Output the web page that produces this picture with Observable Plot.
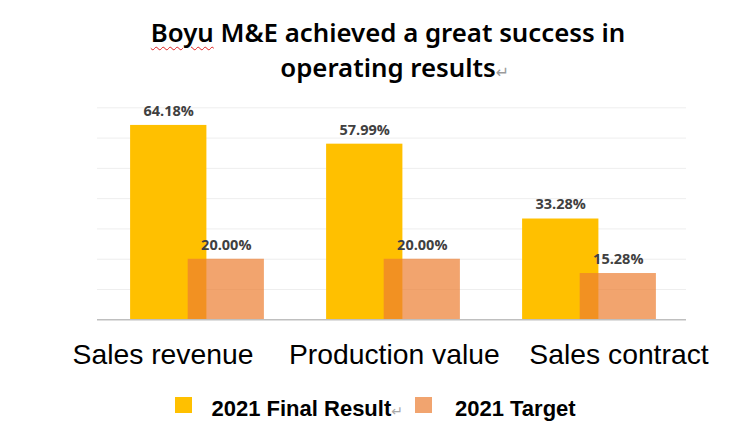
<!DOCTYPE html>
<html><head><meta charset="utf-8">
<script src="https://cdn.jsdelivr.net/npm/d3@7"></script>
<script src="https://cdn.jsdelivr.net/npm/@observablehq/plot@0.6"></script>
<style>
html,body{margin:0;padding:0;background:#fff;}
body{width:754px;height:430px;overflow:hidden;position:relative;}
.tl{position:absolute;left:0;width:776px;text-align:center;font-family:"Noto Sans",sans-serif;font-weight:600;font-size:25.8px;line-height:25.8px;color:#000;white-space:nowrap;}
.ret{position:absolute;font-family:"DejaVu Sans",sans-serif;font-weight:400;color:#9a9a9a;font-size:16px;margin-top:5px;}
.sq{position:absolute;width:16.5px;height:16.5px;top:396.7px;}
.lt{position:absolute;top:398px;font-family:"Liberation Sans",Arial,sans-serif;font-weight:700;font-size:22px;line-height:22px;color:#000;white-space:nowrap;}
.lt .r{font-family:"DejaVu Sans",sans-serif;font-weight:400;color:#a8a8a8;font-size:14px;}
#chart{position:absolute;left:0;top:100px;}
.wavy{text-decoration:underline wavy #e02020;text-decoration-thickness:1px;text-underline-offset:4px;}
</style>
</head><body>
<div class="tl" style="top:20px"><span class="wavy">Boyu</span> M&amp;E achieved a great success in</div>
<div class="tl" style="top:55px">operating results<span class="ret">↵</span></div>
<div id="chart"></div>
<div class="sq" style="left:175px;background:#FFC000"></div>
<div class="lt" style="left:211.5px">2021 Final Result<span class="r">↵</span></div>
<div class="sq" style="left:415px;background:#F1A46F"></div>
<div class="lt" style="left:455px">2021 Target</div>
<script>
const categories = ["Sales revenue", "Production value", "Sales contract"];
const finalResult = [64.18, 57.99, 33.28];
const target = [20.00, 20.00, 15.28];
const yTicks = [10, 20, 30, 40, 50, 60, 70];

const finalData = categories.map((c, i) => ({category: c, value: finalResult[i]}));
const targetData = categories.map((c, i) => ({category: c, value: target[i]}));
const fmt = d => d.value.toFixed(2) + "%";

const catLabel = (c, dx) => Plot.text([c], {
  x: d => d, y: () => 0, text: d => d, dx, dy: 34.7,
  lineAnchor: "middle", fontSize: 28.3, fontFamily: "Liberation Sans, Arial, sans-serif", fill: "#000"
});

const chart = Plot.plot({
  width: 754, height: 280,
  marginTop: 7.3, marginBottom: 60.7, marginLeft: 97, marginRight: 68,
  x: {domain: categories, padding: 0, axis: null},
  y: {domain: [0, 70], axis: null},
  style: {fontFamily: "Open Sans, sans-serif", background: "transparent", overflow: "visible"},
  marks: [
    Plot.gridY(yTicks, {stroke: "#eeeeee", strokeOpacity: 1}),
    Plot.barY(finalData, {x: "category", y: "value", fill: "#FFC000", insetLeft: 32.1, insetRight: 87.6}),
    Plot.barY(targetData, {x: "category", y: "value", fill: "#ED7D31", fillOpacity: 0.7, insetLeft: 89.7, insetRight: 30.1}),
    Plot.ruleY([0], {stroke: "#bfbfbf", strokeWidth: 1.5}),
    Plot.text(finalData, {x: "category", y: "value", text: fmt, dx: -27.8, dy: -14.3, lineAnchor: "middle", fontWeight: 700, fontSize: 14.5, fill: "#404040"}),
    Plot.text(targetData, {x: "category", y: "value", text: fmt, dx: 29.8, dy: -14.3, lineAnchor: "middle", fontWeight: 700, fontSize: 14.5, fill: "#404040"}),
    catLabel(categories[0], -33.5),
    catLabel(categories[1], 1.8),
    catLabel(categories[2], 30.5)
  ]
});
document.getElementById("chart").appendChild(chart);
</script>
</body></html>
